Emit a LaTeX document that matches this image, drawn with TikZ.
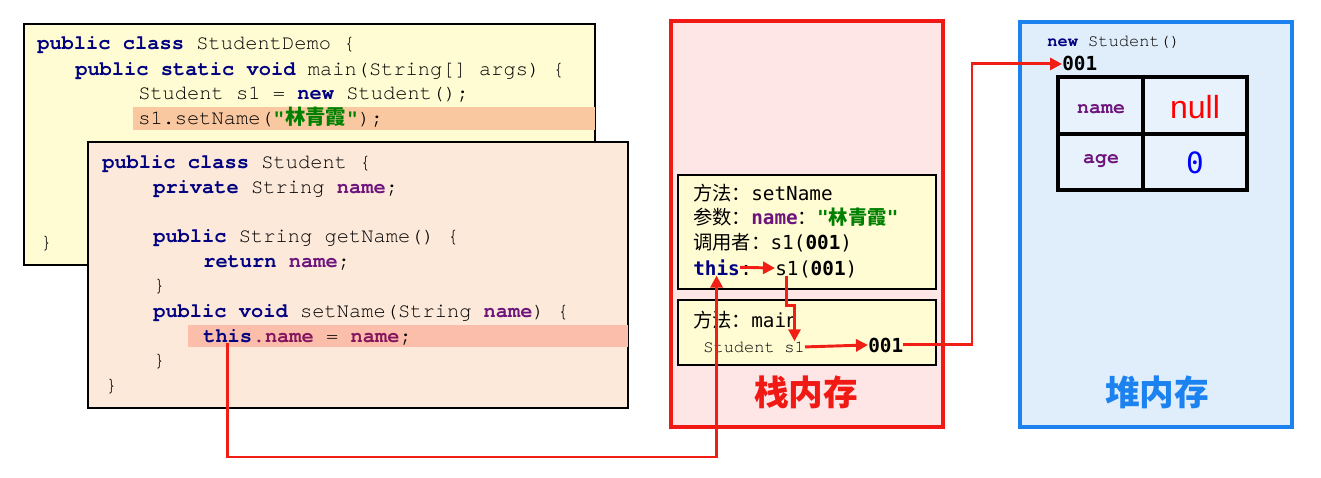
\documentclass[tikz,border=0pt]{standalone}
\usepackage{fontspec}
\setmonofont{TeX Gyre Cursor}
\setsansfont{Liberation Sans}
\newfontfamily\cjk{Noto Sans CJK SC}
\newfontfamily\framefont{DejaVu Sans Mono}
\usetikzlibrary{arrows.meta,positioning}

\definecolor{kwblue}{RGB}{0,0,128}
\definecolor{fieldpurple}{RGB}{110,20,125}
\definecolor{thispurple}{RGB}{135,20,95}
\definecolor{strgreen}{RGB}{0,128,0}
\definecolor{demoyellow}{RGB}{255,252,212}
\definecolor{callrow}{RGB}{250,200,160}
\definecolor{classpeach}{RGB}{253,233,218}
\definecolor{setrow}{RGB}{250,190,170}
\definecolor{stackpink}{RGB}{255,230,230}
\definecolor{stackred}{RGB}{240,25,20}
\definecolor{heapfill}{RGB}{224,238,252}
\definecolor{heapblue}{RGB}{28,130,240}
\definecolor{cellfill}{RGB}{232,242,253}
\definecolor{linkred}{RGB}{240,30,20}

\newcommand{\kw}[1]{\textcolor{kwblue}{\bfseries #1}}
\newcommand{\fld}[1]{\textcolor{fieldpurple}{\bfseries #1}}
\newcommand{\zh}[1]{{\cjk #1}}
\newcommand{\strlit}[1]{\textcolor{strgreen}{\bfseries"{\cjk\bfseries #1}"}}

\tikzset{
  codebox/.style={draw=black,line width=1.1pt},
  code/.style={anchor=base west,inner sep=0pt,font=\ttfamily\fontsize{15.3}{18}\selectfont},
  smallcode/.style={code,font=\ttfamily\fontsize{12.8}{15}\selectfont},
  frametext/.style={anchor=base west,inner sep=0pt,font=\framefont\fontsize{14.5}{17}\selectfont},
  framebox/.style={draw=black,line width=1.5pt,fill=demoyellow},
  link/.style={draw=linkred,line width=2.2pt,-{Triangle[length=9pt,width=9pt]}},
  memlabel/.style={font=\cjk\bfseries\fontsize{26}{30}\selectfont},
}

\begin{document}
\begin{tikzpicture}[x=0.75pt,y=-0.75pt]
\useasboundingbox (0,0) rectangle (1321,478);

% class StudentDemo
\draw[codebox,fill=demoyellow] (24,24) rectangle (595,265);
\fill[callrow] (133,107) rectangle (595,130);
\node[code] (demo1) at (37,50) {\kw{public class} StudentDemo \{};
\node[code] (demo2) at (75,75) {\kw{public static void} main(String[] args) \{};
\node[code] (demo3) at (138,99) {Student s1 = \kw{new} Student();};
\node[code] (demo4) at (138,124) {s1.setName(\strlit{林青霞});};
\node[code] (demo5) at (40,248) {\}};

% class Student
\draw[codebox,fill=classpeach] (88,142) rectangle (628,408);
\fill[setrow] (188,325) rectangle (628,347);
\node[code] (cls1) at (102,168) {\kw{public class} Student \{};
\node[code] (cls2) at (153,193) {\kw{private} String \fld{name};};
\node[code] (cls3) at (153,242) {\kw{public} String getName() \{};
\node[code] (cls4) at (203,267) {\kw{return} \fld{name};};
\node[code] (cls5) at (153,291) {\}};
\node[code] (cls6) at (153,317) {\kw{public void} setName(String \fld{name}) \{};
\node[code] (thiskw) at (203,342) {\textcolor{kwblue}{\bfseries this}};
\node[code] (assign) at (thiskw.base east) {\textcolor{thispurple}{\bfseries .name} = \textcolor{thispurple}{\bfseries name};};
\node[code] (cls8) at (153,366) {\}};
\node[code] (cls9) at (105,391) {\}};

% stack
\draw[draw=stackred,line width=3pt,fill=stackpink] (671,21) rectangle (943,427);
\draw[framebox] (678,175) rectangle (936,289);
\draw[framebox] (678,300) rectangle (936,365);
\node[frametext] (set1) at (693,200) {\zh{方法：}setName};
\node[frametext] (set2) at (693,224) {\zh{参数：}\fld{name}\zh{：}\strlit{林青霞}};
\node[frametext] (set3) at (693,249) {\zh{调用者：}s1(\textbf{001})};
\node[frametext] (thisref) at (693,275) {\kw{this}};
\node[frametext] (thiscol) at (thisref.base east) {:};
\coordinate (thisgap) at (775,0);
\node[frametext] (s1a) at (thisgap |- thisref.base) {s1};
\node[frametext] (s1b) at (s1a.base east) {(\textbf{001})};
\node[frametext] (main1) at (693,327) {\zh{方法：}main};
\node[smallcode] (stud) at (703,352) {Student};
\coordinate (s1gap) at (784,0);
\node[smallcode] (s1main) at (s1gap |- stud.base) {s1};
\node[frametext] (addrmain) at (868,352) {\textbf{001}};
\node[memlabel,text=stackred] (stacklbl) at (806,392) {栈内存};

% heap
\draw[draw=heapblue,line width=3pt,fill=heapfill] (1020,22) rectangle (1292,427);
\node[smallcode] (newst) at (1047,47) {\kw{new}~Student()};
\node[frametext] (addrheap) at (1062,71) {\textbf{001}};
\draw[line width=3pt,fill=cellfill] (1058,77) rectangle (1247,190);
\draw[line width=3pt] (1143,77) -- (1143,190);
\draw[line width=3pt] (1058,134) -- (1247,134);
\node[font=\ttfamily\bfseries\fontsize{15}{17}\selectfont,text=fieldpurple] (namekey) at (1101,109) {name};
\node[font=\sffamily\fontsize{24}{28}\selectfont,text=red] (nameval) at (1195,107) {null};
\node[font=\ttfamily\bfseries\fontsize{15}{17}\selectfont,text=fieldpurple] (agekey) at (1101,161) {age};
\node[font=\framefont\fontsize{22}{26}\selectfont,text=blue] (ageval) at (1195,163) {0};
\node[memlabel,text=heapblue] (heaplbl) at (1157,392) {堆内存};

% arrows
\coordinate (low) at (0,457);
\coordinate (turn) at (972,0);
\draw[link] (thiskw.south) -- (thiskw.south |- low) -| (thisref.south);
\draw[link] (thisref.east) -- (s1a.west);
\draw[link] (s1a.south) -- ++(0,30) -| (s1main.north);
\draw[link] (s1main.east) -- (addrmain.west);
\draw[link] (addrmain.east) -- (addrmain.east -| turn) |- (addrheap.west);

\end{tikzpicture}
\end{document}
